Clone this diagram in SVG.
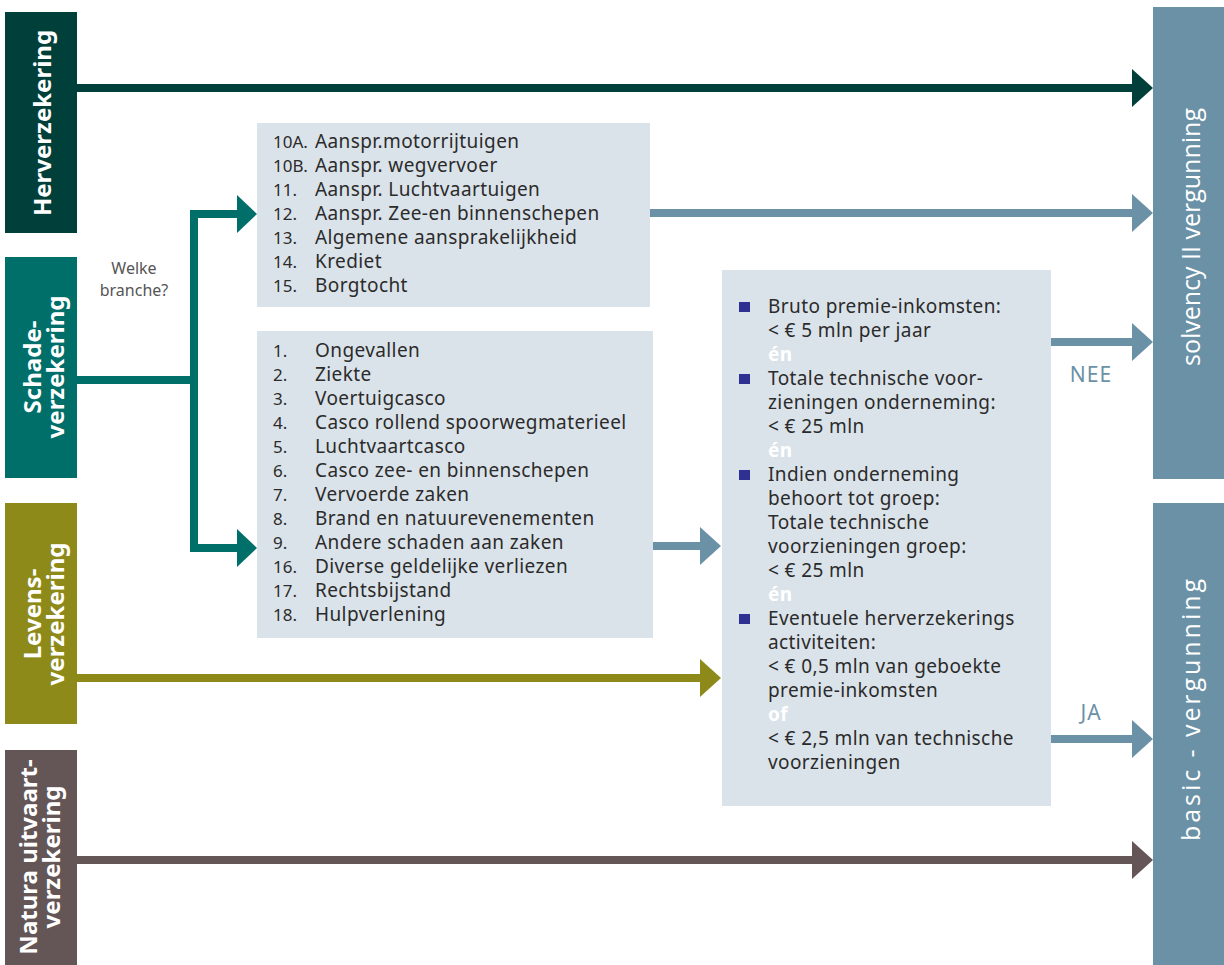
<svg xmlns="http://www.w3.org/2000/svg" width="1224" height="965" viewBox="0 0 1224 965">
<style>
text{font-family:"Noto Sans","Open Sans","Liberation Sans",sans-serif}
.lbl{fill:#fff;font-size:24px;font-weight:bold;text-anchor:middle}
.rlbl{fill:#fff;font-size:25px;text-anchor:middle;font-family:"Open Sans","Noto Sans",sans-serif}
.lst{fill:#2b2b2b;font-size:19px;letter-spacing:0.4px}
.num{fill:#2b2b2b;font-size:17px}
.box{fill:#dbe3ea}
.en{fill:#fff;font-weight:bold}
.bul{fill:#2e3192}
.ln{fill:none;stroke-width:8}
.yn{fill:#6b91a6;font-size:21px;letter-spacing:1px}
</style>
<rect width="1224" height="965" fill="#fff"/>
<g id="connectors">
  <line class="ln" x1="77" y1="88" x2="1134" y2="88" stroke="#003f3a" stroke-width="9"/>
  <polygon points="1132,69 1153,88 1132,107" fill="#003f3a"/>
  <polyline class="ln" points="77,380 194,380" stroke="#006f69"/>
  <polyline class="ln" points="239,214 194,214 194,548 239,548" stroke="#006f69"/>
  <polygon points="237,195 257,214 237,233" fill="#006f69"/>
  <polygon points="237,529 257,548 237,567" fill="#006f69"/>
  <line class="ln" x1="650" y1="213" x2="1134" y2="213" stroke="#6b91a6"/>
  <polygon points="1132,194 1153,213 1132,232" fill="#6b91a6"/>
  <line class="ln" x1="653" y1="546" x2="702" y2="546" stroke="#6b91a6"/>
  <polygon points="700,527 721,546 700,565" fill="#6b91a6"/>
  <line class="ln" x1="77" y1="678" x2="702" y2="678" stroke="#8e8a1a"/>
  <polygon points="700,659 721,678 700,697" fill="#8e8a1a"/>
  <line class="ln" x1="1051" y1="342" x2="1134" y2="342" stroke="#6b91a6"/>
  <polygon points="1132,323 1153,342 1132,361" fill="#6b91a6"/>
  <line class="ln" x1="1051" y1="739" x2="1134" y2="739" stroke="#6b91a6"/>
  <polygon points="1132,720 1153,739 1132,758" fill="#6b91a6"/>
  <line class="ln" x1="77" y1="860" x2="1134" y2="860" stroke="#645656"/>
  <polygon points="1132,841 1153,860 1132,879" fill="#645656"/>
  <text x="1091" y="382" class="yn" text-anchor="middle">NEE</text>
  <text x="1091" y="720" class="yn" text-anchor="middle">JA</text>
  <text x="134" y="274" fill="#555" font-size="16" text-anchor="middle">Welke</text>
  <text x="134" y="296" fill="#555" font-size="16" text-anchor="middle">branche?</text>
</g>
<g id="herverzekering">
  <rect x="5" y="12" width="72" height="221" fill="#003f3a"/>
  <text class="lbl" transform="translate(51,123) rotate(-90)">Herverzekering</text>
</g>
<g id="schadeverzekering">
  <rect x="5" y="257" width="72" height="221" fill="#006f69"/>
  <text class="lbl" transform="translate(41,367) rotate(-90)">Schade-</text>
  <text class="lbl" transform="translate(64,367) rotate(-90)">verzekering</text>
</g>
<g id="levensverzekering">
  <rect x="5" y="503" width="72" height="221" fill="#8e8a1a"/>
  <text class="lbl" transform="translate(41,614) rotate(-90)">Levens-</text>
  <text class="lbl" transform="translate(64,614) rotate(-90)">verzekering</text>
</g>
<g id="natura">
  <rect x="5" y="750" width="72" height="215" fill="#645656"/>
  <text class="lbl" transform="translate(37,857) rotate(-90)">Natura uitvaart-</text>
  <text class="lbl" transform="translate(60,857) rotate(-90)">verzekering</text>
</g>
<g id="solvency">
  <rect x="1153" y="7" width="71" height="472" fill="#6b91a6"/>
  <text class="rlbl" transform="translate(1200,237) rotate(-90)" textLength="258" lengthAdjust="spacing">solvency II vergunning</text>
</g>
<g id="basic">
  <rect x="1153" y="503" width="71" height="462" fill="#6b91a6"/>
  <text class="rlbl" transform="translate(1200,710) rotate(-90)" textLength="262" lengthAdjust="spacing">basic - vergunning</text>
</g>
<g id="list1">
  <rect class="box" x="257" y="123" width="393" height="184"/>
  <text class="num" x="273" y="148">10A.</text><text class="lst" x="315" y="148">Aanspr.motorrijtuigen</text>
  <text class="num" x="273" y="172">10B.</text><text class="lst" x="315" y="172">Aanspr. wegvervoer</text>
  <text class="num" x="273" y="196">11.</text><text class="lst" x="315" y="196">Aanspr. Luchtvaartuigen</text>
  <text class="num" x="273" y="220">12.</text><text class="lst" x="315" y="220">Aanspr. Zee-en binnenschepen</text>
  <text class="num" x="273" y="244">13.</text><text class="lst" x="315" y="244">Algemene aansprakelijkheid</text>
  <text class="num" x="273" y="268">14.</text><text class="lst" x="315" y="268">Krediet</text>
  <text class="num" x="273" y="292">15.</text><text class="lst" x="315" y="292">Borgtocht</text>
</g>
<g id="list2">
  <rect class="box" x="257" y="331" width="396" height="307"/>
  <text class="num" x="273" y="357">1.</text><text class="lst" x="315" y="357">Ongevallen</text>
  <text class="num" x="273" y="381">2.</text><text class="lst" x="315" y="381">Ziekte</text>
  <text class="num" x="273" y="405">3.</text><text class="lst" x="315" y="405">Voertuigcasco</text>
  <text class="num" x="273" y="429">4.</text><text class="lst" x="315" y="429">Casco rollend spoorwegmaterieel</text>
  <text class="num" x="273" y="453">5.</text><text class="lst" x="315" y="453">Luchtvaartcasco</text>
  <text class="num" x="273" y="477">6.</text><text class="lst" x="315" y="477">Casco zee- en binnenschepen</text>
  <text class="num" x="273" y="501">7.</text><text class="lst" x="315" y="501">Vervoerde zaken</text>
  <text class="num" x="273" y="525">8.</text><text class="lst" x="315" y="525">Brand en natuurevenementen</text>
  <text class="num" x="273" y="549">9.</text><text class="lst" x="315" y="549">Andere schaden aan zaken</text>
  <text class="num" x="273" y="573">16.</text><text class="lst" x="315" y="573">Diverse geldelijke verliezen</text>
  <text class="num" x="273" y="597">17.</text><text class="lst" x="315" y="597">Rechtsbijstand</text>
  <text class="num" x="273" y="621">18.</text><text class="lst" x="315" y="621">Hulpverlening</text>
</g>
<g id="criteria">
  <rect class="box" x="722" y="270" width="329" height="536"/>
  <rect class="bul" x="739" y="302" width="11" height="10"/>
  <rect class="bul" x="739" y="374" width="11" height="10"/>
  <rect class="bul" x="739" y="470" width="11" height="10"/>
  <rect class="bul" x="739" y="614" width="11" height="10"/>
  <text class="lst" x="768" y="313">Bruto premie-inkomsten:</text>
  <text class="lst" x="768" y="337">&lt; € 5 mln per jaar</text>
  <text class="lst en" x="768" y="361">én</text>
  <text class="lst" x="768" y="385">Totale technische voor-</text>
  <text class="lst" x="768" y="409">zieningen onderneming:</text>
  <text class="lst" x="768" y="433">&lt; € 25 mln</text>
  <text class="lst en" x="768" y="457">én</text>
  <text class="lst" x="768" y="481">Indien onderneming</text>
  <text class="lst" x="768" y="505">behoort tot groep:</text>
  <text class="lst" x="768" y="529">Totale technische</text>
  <text class="lst" x="768" y="553">voorzieningen groep:</text>
  <text class="lst" x="768" y="577">&lt; € 25 mln</text>
  <text class="lst en" x="768" y="601">én</text>
  <text class="lst" x="768" y="625">Eventuele herverzekerings</text>
  <text class="lst" x="768" y="649">activiteiten:</text>
  <text class="lst" x="768" y="673">&lt; € 0,5 mln van geboekte</text>
  <text class="lst" x="768" y="697">premie-inkomsten</text>
  <text class="lst en" x="768" y="721">of</text>
  <text class="lst" x="768" y="745">&lt; € 2,5 mln van technische</text>
  <text class="lst" x="768" y="769">voorzieningen</text>
</g>
</svg>
